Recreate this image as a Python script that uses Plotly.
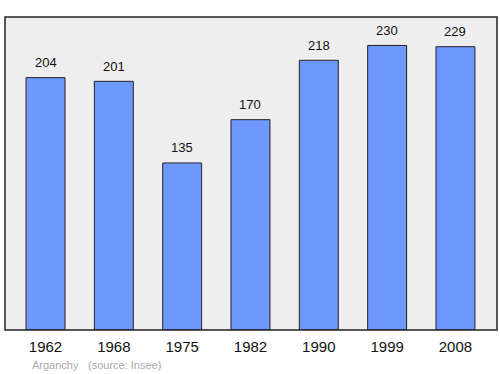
import plotly.graph_objects as go

years = ["1962", "1968", "1975", "1982", "1990", "1999", "2008"]
population = [204, 201, 135, 170, 218, 230, 229]
place = "Arganchy"
source = "(source: Insee)"

FONT = "Liberation Sans, Arial, sans-serif"

fig = go.Figure()
fig.add_trace(go.Bar(
    x=years, y=population,
    width=0.57,
    marker=dict(color="#6f98ff", line=dict(color="#222222", width=1)),
    text=[str(v) for v in population],
    textposition="none",
    texttemplate="%{y}",
    hoverinfo="x+y",
))

for i, v in enumerate(population):
    fig.add_annotation(x=i, y=v, xref="x", yref="y", text=str(v), showarrow=False,
                       xanchor="center", yanchor="middle", yshift=15,
                       font=dict(family=FONT, size=13, color="#111111"))

fig.update_layout(
    width=500, height=374,
    margin=dict(l=5, r=3, t=17, b=44),
    paper_bgcolor="white",
    plot_bgcolor="#eeeeee",
    showlegend=False,
    xaxis=dict(type="category", range=[-0.593, 6.608], showgrid=False, zeroline=False,
               ticks="", ticklabelstandoff=6,
               tickfont=dict(family=FONT, size=15, color="#111111"),
               showline=False),
    yaxis=dict(range=[0, 253], showgrid=False, zeroline=False, showticklabels=False,
               showline=False),
)

fig.add_shape(type="rect", xref="paper", yref="paper", x0=0, x1=1, y0=0, y1=1,
              line=dict(color="#222222", width=1.5), layer="above")

fig.add_annotation(text=place, xref="paper", yref="paper", x=0.051, y=-0.112,
                   xanchor="left", yanchor="middle", showarrow=False,
                   font=dict(family=FONT, size=11, color="#aaaaaa"))
fig.add_annotation(text=source, xref="paper", yref="paper", x=0.165, y=-0.112,
                   xanchor="left", yanchor="middle", showarrow=False,
                   font=dict(family=FONT, size=11, color="#aaaaaa"))

fig.write_html("out.html")
